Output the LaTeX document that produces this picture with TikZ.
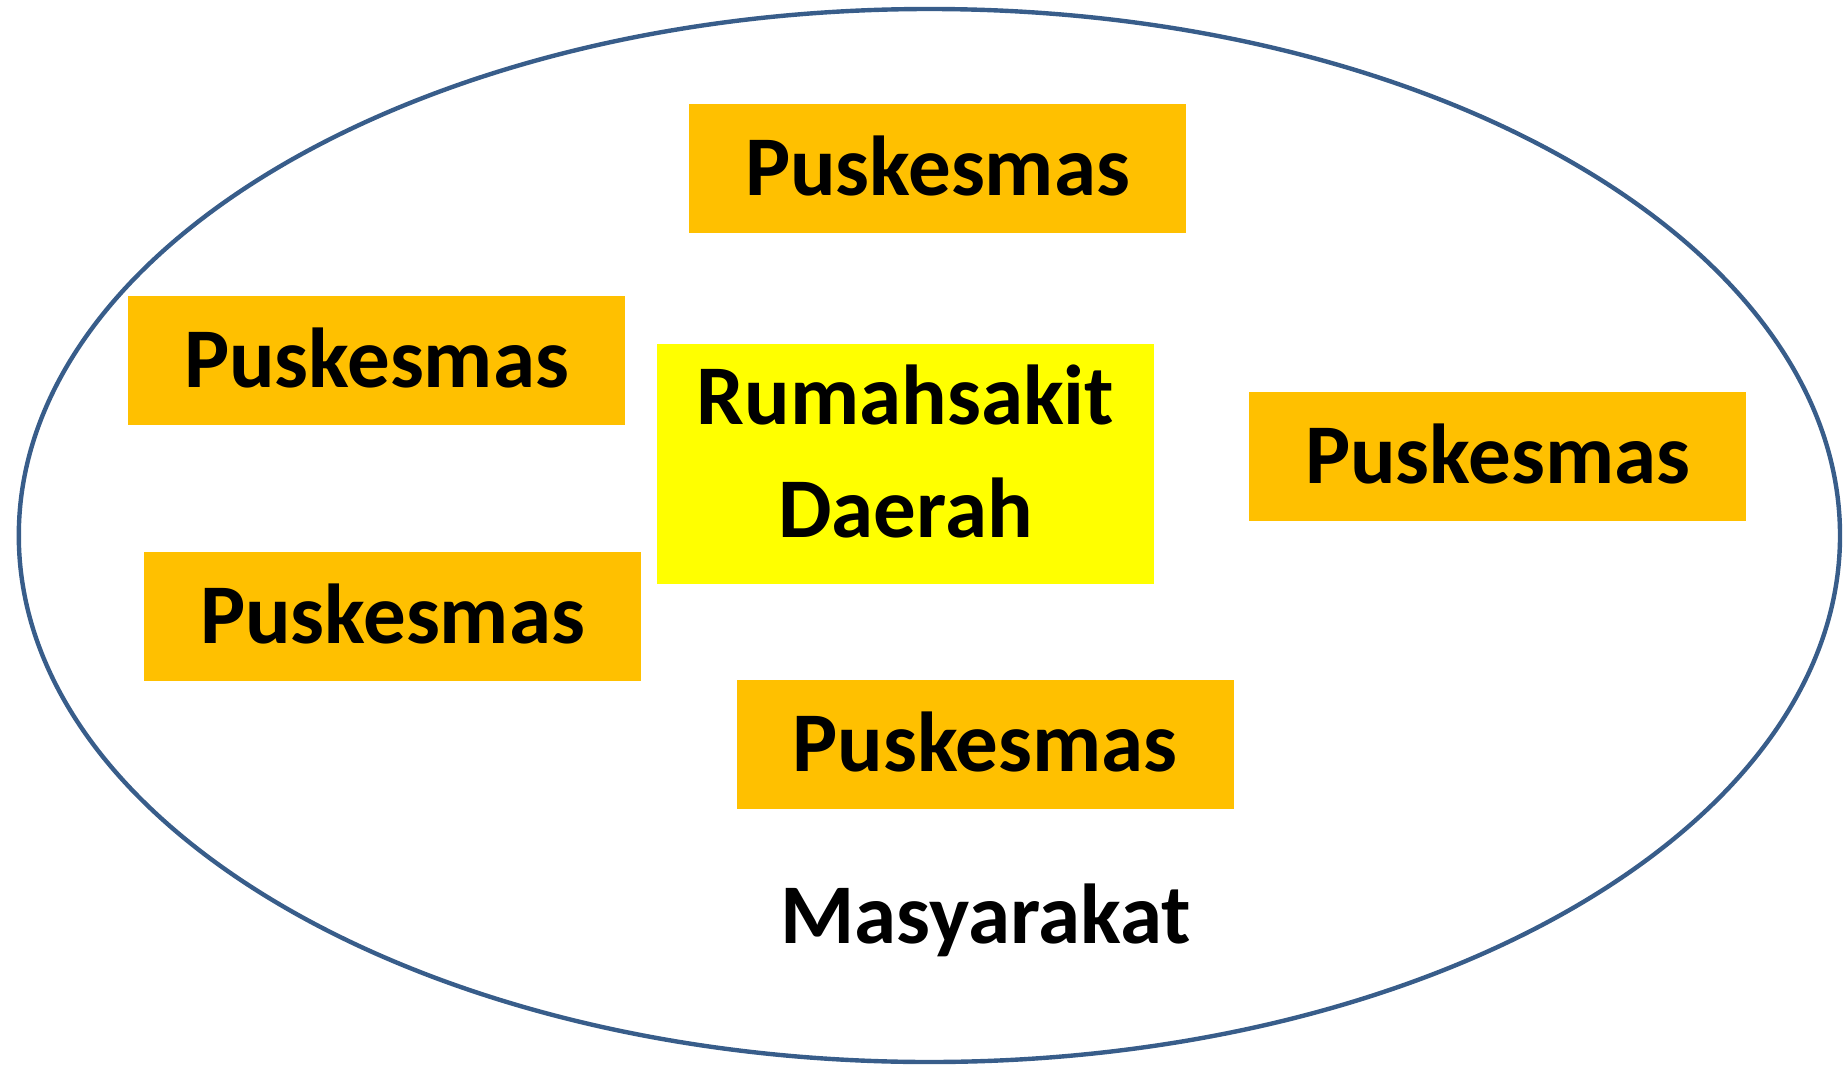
\documentclass[tikz,border=0pt]{standalone}
\usepackage{fontspec}
\setmainfont{Carlito}
\usepackage{tikz}
\usetikzlibrary{shapes.geometric}

\definecolor{pkorange}{HTML}{FFC000}
\definecolor{rsyellow}{HTML}{FFFF00}
\definecolor{rimblue}{HTML}{385D8A}

\begin{document}
\begin{tikzpicture}[x=0.5pt,y=-0.5pt,
                    font=\bfseries\fontsize{42.5}{56.5}\selectfont]

  \tikzstyle{puskbox}=[rectangle,fill=pkorange,inner sep=0pt,
                       minimum width=248.5pt,minimum height=64.5pt,
                       text height=27pt,text depth=0pt]
  \tikzstyle{rsbox}=[rectangle,fill=rsyellow,inner sep=0pt,
                     minimum width=248.5pt,minimum height=120pt]

  \useasboundingbox (0,0) rectangle (1845,1065);

  % masyarakat
  \node[ellipse,draw=rimblue,line width=2.2pt,inner sep=0pt,
        minimum width=910.6pt,minimum height=526.5pt] (msy) at (929.4,535.5) {};

  \node[puskbox] (PKT) at (937.5,168.5) {Puskesmas};
  \node[puskbox] (PKL) at (376.5,360)   {Puskesmas};
  \node[puskbox] (PKK) at (392.5,616)   {Puskesmas};
  \node[puskbox] (PKR) at (1497.5,456)  {Puskesmas};
  \node[puskbox] (PKB) at (985,744)     {Puskesmas};

  \node[rsbox] (RSD) at (905.5,464) {};
  \node[align=center,anchor=base] (RSDtxt) at (905.5,537) {Rumahsakit\\Daerah};

  \node[anchor=base] (MSYtxt) at (985.5,943) {Masyarakat};
\end{tikzpicture}
\end{document}
